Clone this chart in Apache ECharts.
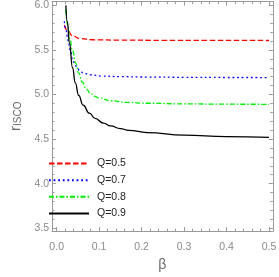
<!DOCTYPE html>
<html><head><meta charset="utf-8">
<script src="https://cdn.jsdelivr.net/npm/echarts@6/dist/echarts.min.js"></script>
<style>html,body{margin:0;padding:0;background:#fff}#c{width:279px;height:277px}</style>
</head><body><div id="c"></div>
<script>
// Data
var seriesNames = ['Q=0.5', 'Q=0.7', 'Q=0.8', 'Q=0.9'];
var q05 = [[0.018,5.78],[0.0265,5.71],[0.0373,5.657],[0.055,5.628],[0.084,5.614],[0.15,5.61],[0.25,5.608],[0.35,5.607],[0.5,5.606]];
var q07 = [[0.018,5.82],[0.022,5.72],[0.0265,5.61],[0.032,5.50],[0.0373,5.40],[0.043,5.34],[0.048,5.30],[0.055,5.265],[0.0625,5.24],[0.08,5.22],[0.1056,5.207],[0.15,5.2],[0.213,5.196],[0.3,5.193],[0.4,5.191],[0.5,5.19]];
var q08 = [[0.0216,5.95],[0.026,5.78],[0.031,5.62],[0.037,5.50],[0.045,5.35],[0.052,5.24],[0.06,5.14],[0.07,5.06],[0.08,5.01],[0.09,4.98],[0.1,4.96],[0.127,4.93],[0.165,4.912],[0.213,4.902],[0.3,4.895],[0.4,4.891],[0.5,4.89]];
var q09 = [[0.0216,6.0],[0.025,5.82],[0.03,5.58],[0.0373,5.30],[0.044,5.13],[0.0517,4.99],[0.0625,4.88],[0.077,4.79],[0.0905,4.732],[0.11,4.68],[0.127,4.648],[0.15,4.617],[0.17,4.598],[0.213,4.573],[0.3,4.545],[0.4,4.528],[0.5,4.52]];
var xMajor = [0, 0.1, 0.2, 0.3, 0.4, 0.5];
var xMinor = [0.02,0.04,0.06,0.08,0.12,0.14,0.16,0.18,0.22,0.24,0.26,0.28,0.32,0.34,0.36,0.38,0.42,0.44,0.46,0.48];
var yMajor = [3.5, 4.0, 4.5, 5.0, 5.5, 6.0];
var yMinor = [3.6,3.7,3.8,3.9,4.1,4.2,4.3,4.4,4.6,4.7,4.8,4.9,5.1,5.2,5.3,5.4,5.6,5.7,5.8,5.9];

var XMIN = -0.011, XMAX = 0.509, YMIN = 3.4675, YMAX = 6.043;
var AX = '#9a9a9a', FONT = 'Liberation Sans';

function xAx(pos, vals, len, line, labels, name) {
  var a = {
    type: 'value', position: pos, min: XMIN, max: XMAX, splitLine: {show: false},
    axisLine: {show: line, onZero: false, lineStyle: {color: AX, width: 1}},
    axisTick: {show: true, inside: true, length: len, customValues: vals, lineStyle: {color: AX, width: 1}},
    axisLabel: labels ? {show: true, customValues: vals, margin: 11, color: '#8a8a8a', fontSize: 10.5, fontFamily: FONT,
      formatter: function (v) { return v.toFixed(1); }} : {show: false}
  };
  if (name) {
    a.name = name; a.nameLocation = 'middle'; a.nameGap = 24;
    a.nameTextStyle = {color: '#6a6a6a', fontSize: 14, fontFamily: FONT};
  }
  return a;
}
function yAx(pos, vals, len, line, labels, name) {
  var a = {
    type: 'value', position: pos, min: YMIN, max: YMAX, splitLine: {show: false},
    axisLine: {show: line, onZero: false, lineStyle: {color: AX, width: 1}},
    axisTick: {show: true, inside: true, length: len, customValues: vals, lineStyle: {color: AX, width: 1}},
    axisLabel: labels ? {show: true, customValues: vals, margin: 3, color: '#8a8a8a', fontSize: 10.5, fontFamily: FONT,
      formatter: function (v) { return v.toFixed(1); }} : {show: false}
  };
  if (name) {
    a.name = name; a.nameLocation = 'middle'; a.nameGap = 29; a.nameRotate = 90;
    a.nameTextStyle = {color: '#6a6a6a', fontFamily: FONT,
      rich: {r: {fontSize: 15, color: '#6a6a6a', fontFamily: FONT, verticalAlign: 'bottom'},
             s: {fontSize: 10, color: '#6a6a6a', fontFamily: FONT, verticalAlign: 'bottom', padding: [3, 0, 0, 0]}}};
  }
  return a;
}

var chart = echarts.init(document.getElementById('c'), null, {renderer: 'canvas'});
var mk = function (name, data, color, type) {
  return {name: name, type: 'line', data: data, xAxisIndex: 0, yAxisIndex: 0, showSymbol: false, symbol: 'none',
    smooth: 0.5, smoothMonotone: 'x', lineStyle: {color: color, width: 1.3, type: type}, itemStyle: {color: color}};
};
chart.setOption({
  animation: false,
  grid: {left: 36, right: 2, top: 1, bottom: 38, containLabel: false},
  xAxis: [xAx('bottom', xMajor, 4, true, true, 'β'), xAx('bottom', xMinor, 2.5, false, false),
          xAx('top', xMajor, 4, true, false), xAx('top', xMinor, 2.5, false, false)],
  yAxis: [yAx('left', yMajor, 4, true, true, '{r|r}{s|ISCO}'), yAx('left', yMinor, 2.5, false, false),
          yAx('right', yMajor, 4, true, false), yAx('right', yMinor, 2.5, false, false)],
  legend: {orient: 'vertical', left: 48, top: 158, itemWidth: 40, itemHeight: 14, itemGap: 5.4, padding: 0,
    itemStyle: {opacity: 0},
    data: seriesNames, textStyle: {fontSize: 10.5, color: '#222', fontFamily: FONT, padding: [0, 0, 0, 3]}},
  series: [
    mk(seriesNames[0], q05, '#ff0000', [5.5, 2.5]),
    mk(seriesNames[1], q07, '#0000ff', [1.8, 2.8]),
    mk(seriesNames[2], q08, '#00ee00', [5, 2, 1.5, 2]),
    mk(seriesNames[3], q09, '#000000', 'solid')
  ]
});
</script></body></html>
